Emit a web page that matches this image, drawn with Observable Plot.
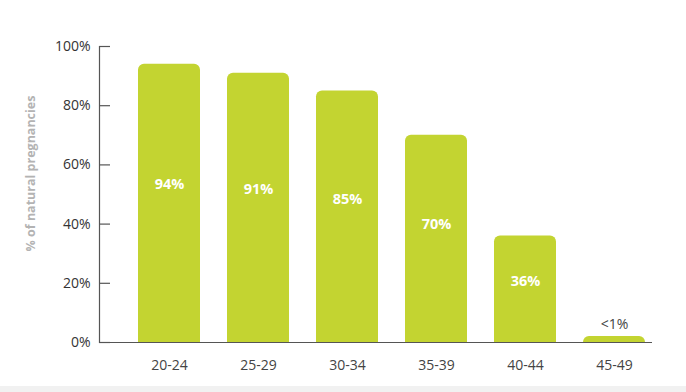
<!DOCTYPE html>
<html>
<head>
<meta charset="utf-8">
<script src="https://cdn.jsdelivr.net/npm/d3@7"></script>
<script src="https://cdn.jsdelivr.net/npm/@observablehq/plot@0.6"></script>
<style>
  html, body { margin: 0; padding: 0; background: #fff; }
  #chart { width: 686px; height: 386px; }
  #strip { width: 686px; height: 6px; background: #f1f1f1; }
</style>
</head>
<body>
<div id="chart"></div>
<div id="strip"></div>
<script>
const ageGroups = ["20-24", "25-29", "30-34", "35-39", "40-44", "45-49"];
const pregnancyPct = [94, 91, 85, 70, 36, 2];
const valueLabels = ["94%", "91%", "85%", "70%", "36%", "<1%"];
const yTicks = [0, 20, 40, 60, 80, 100];
const yTitle = "% of natural pregnancies";

const data = ageGroups.map((g, i) => ({group: g, value: pregnancyPct[i], label: valueLabels[i]}));
const inside = data.filter(d => d.value >= 10);
const above = data.filter(d => d.value < 10);

const font = "'Open Sans', sans-serif";
const green = "#c3d431";

const chart = Plot.plot({
  width: 686,
  height: 386,
  marginLeft: 99,
  marginRight: 34,
  marginTop: 46,
  marginBottom: 44,
  style: {fontFamily: font, background: "#fff", overflow: "visible"},
  x: {domain: ageGroups, paddingInner: 0.3, paddingOuter: 0.23, align: 0.85, label: null},
  y: {domain: [0, 100], label: null},
  marks: [
    Plot.barY(data, {x: "group", y: "value", fill: green, ry1: 6}),
    Plot.frame({anchor: "left", stroke: "#555", strokeWidth: 1.2}),
    Plot.ruleY([0], {stroke: "#555", strokeWidth: 1.2}),
    Plot.axisY({ticks: yTicks, tickSize: -11, tickPadding: 20, tickFormat: d => d + "%", fontSize: 14, color: "#333", stroke: "#555", strokeWidth: 1.2, label: null}),
    Plot.axisX({tickSize: 0, tickPadding: 18, fontSize: 14, color: "#444", label: null}),
    Plot.text(inside, {x: "group", y: d => d.value * 0.57, text: "label", fill: "#fff", fontWeight: "bold", fontSize: 14.5}),
    Plot.text(above, {x: "group", y: "value", text: "label", fill: "#444", fontSize: 14, dy: -12}),
    Plot.text([yTitle], {frameAnchor: "left", textAnchor: "middle", rotate: -90, dx: -69, dy: -21, fill: "#b3b3b3", fontWeight: "bold", fontSize: 12.5})
  ]
});
document.getElementById("chart").appendChild(chart);
</script>
</body>
</html>
